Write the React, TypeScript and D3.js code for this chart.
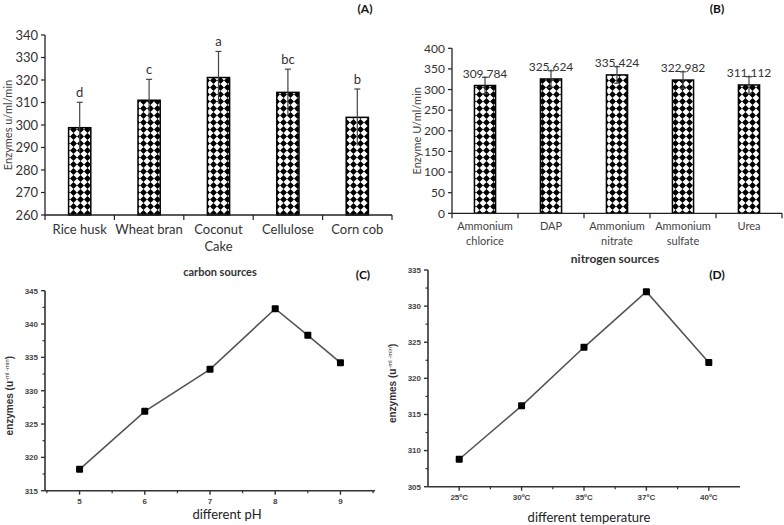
import * as React from 'react';
import * as d3 from 'd3';

// ---- data ----
const carbonSources = ['Rice husk', 'Wheat bran', 'Coconut|Cake', 'Cellulose', 'Corn cob'];
const carbonValues = [298.8, 311.0, 321.1, 314.5, 303.4];
const carbonErrors = [11.3, 9.3, 11.6, 10.3, 12.6];
const carbonLetters = ['d', 'c', 'a', 'bc', 'b'];
const carbonTicks = [260, 270, 280, 290, 300, 310, 320, 330, 340];

const nitrogenSources = ['Ammonium|chlorice', 'DAP', 'Ammonium|nitrate', 'Ammonium|sulfate', 'Urea'];
const nitrogenValues = [309.784, 325.624, 335.424, 322.982, 311.112];
const nitrogenErrors = [20, 20, 20, 20, 20];
const nitrogenTicks = [0, 50, 100, 150, 200, 250, 300, 350, 400];

const phValues = [5, 6, 7, 8, 8.5, 9];
const phEnzymes = [318.2, 326.9, 333.2, 342.3, 338.3, 334.2];
const phTicks = [5, 6, 7, 8, 9];
const phYTicks = [315, 320, 325, 330, 335, 340, 345];

const tempLabels = ['25ºC', '30ºC', '35ºC', '37ºC', '40ºC'];
const tempEnzymes = [308.8, 316.2, 324.3, 332.0, 322.2];
const tempYTicks = [305, 310, 315, 320, 325, 330, 335];

const CAL = 'Lato, "Open Sans", sans-serif';
const ARIAL = '"Liberation Sans", Arial, sans-serif';

const DiamondPattern = () => (
  <defs>
    <pattern id="diam" width={7} height={7} patternUnits="userSpaceOnUse">
      <rect width={7} height={7} fill="#fff" />
      <path d="M3.5,0 L7,3.5 L3.5,7 L0,3.5 Z" fill="#000" />
    </pattern>
  </defs>
);

interface BarPanelProps {
  cats: string[];
  values: number[];
  errors: number[];
  ticks: number[];
  x0: number; x1: number; y0: number; y1: number;
  yDomain: [number, number];
  tickFont: number;
  catFont: number;
  catColor: string;
  yLabel: string;
  yLabelX: number;
  yLabelFont: number;
  labels: string[];
  labelFont: number;
  labelGap: number;
  bottomCaps: boolean;
}

const BarPanel = (p: BarPanelProps) => {
  const x = d3.scaleBand().domain(p.cats).range([p.x0, p.x1]);
  const y = d3.scaleLinear().domain(p.yDomain).range([p.y1, p.y0]);
  const bw = x.bandwidth() * 0.32;
  const bounds = p.cats.map((c) => x(c)!).concat([p.x1]);
  return (
    <g>
      {p.cats.map((c, i) => {
        const cx = x(c)! + x.bandwidth() / 2;
        const top = y(p.values[i]);
        const eTop = y(p.values[i] + p.errors[i]);
        const eBot = y(p.values[i] - p.errors[i]);
        return (
          <g key={c}>
            <rect x={cx - bw / 2} y={top} width={bw} height={p.y1 - top}
              fill="url(#diam)" stroke="#000" strokeWidth={1.5} />
            <line x1={cx} x2={cx} y1={eTop} y2={eBot} stroke="#444" strokeWidth={1.2} />
            <line x1={cx - 3} x2={cx + 3} y1={eTop} y2={eTop} stroke="#444" strokeWidth={1.2} />
            {p.bottomCaps && (
              <line x1={cx - 3} x2={cx + 3} y1={eBot} y2={eBot} stroke="#444" strokeWidth={1.2} />
            )}
            <text x={cx} y={p.bottomCaps ? top - p.labelGap : eTop - p.labelGap}
              textAnchor="middle" fontSize={p.labelFont} fontFamily={CAL} fill="#333">
              {p.labels[i]}
            </text>
            {c.split('|').map((line, k) => (
              <text key={k} x={cx} y={p.y1 + (p.catFont + 6) + k * (p.catFont + 4)}
                textAnchor="middle" fontSize={p.catFont} fontFamily={CAL} fill={p.catColor}>
                {line}
              </text>
            ))}
          </g>
        );
      })}
      <line x1={p.x0} x2={p.x0} y1={p.y0} y2={p.y1} stroke="#222" strokeWidth={1.3} />
      <line x1={p.x0} x2={p.x1} y1={p.y1} y2={p.y1} stroke="#222" strokeWidth={1.3} />
      {p.ticks.map((t) => (
        <g key={t}>
          <line x1={p.x0 - 4} x2={p.x0} y1={y(t)} y2={y(t)} stroke="#222" strokeWidth={1.2} />
          <text x={p.x0 - 7} y={y(t)} dy="0.35em" textAnchor="end" fontSize={p.tickFont}
            fontFamily={CAL} fill="#333">{t}</text>
        </g>
      ))}
      {bounds.map((b, i) => (
        <line key={i} x1={b} x2={b} y1={p.y1} y2={p.y1 + 5} stroke="#222" strokeWidth={1.2} />
      ))}
      <text transform={`translate(${p.yLabelX},${(p.y0 + p.y1) / 2}) rotate(-90)`}
        textAnchor="middle" fontSize={p.yLabelFont} fontFamily={CAL} fill="#444">{p.yLabel}</text>
    </g>
  );
};

interface LinePanelProps {
  xs: number[];
  ys: number[];
  x: (v: number) => number;
  y: d3.ScaleLinear<number, number>;
  x0: number; x1: number; y0: number; y1: number;
  xMajor: { v: number; label: string }[];
  xMinor: number[];
  yTicks: number[];
}

const LinePanel = (p: LinePanelProps) => {
  const line = d3.line<number>().x((d, i) => p.x(p.xs[i])).y((d) => p.y(d));
  const step = p.yTicks[1] - p.yTicks[0];
  const yMinor = p.yTicks.slice(0, -1).map((t) => t + step / 2);
  const ax = '#333';
  return (
    <g>
      <line x1={p.x0} x2={p.x0} y1={p.y0} y2={p.y1} stroke={ax} strokeWidth={1.6} />
      <line x1={p.x0} x2={p.x1} y1={p.y1} y2={p.y1} stroke={ax} strokeWidth={1.6} />
      {p.yTicks.map((t) => (
        <g key={t}>
          <line x1={p.x0 - 4} x2={p.x0} y1={p.y(t)} y2={p.y(t)} stroke={ax} strokeWidth={1.4} />
          <text x={p.x0 - 7} y={p.y(t)} dy="0.35em" textAnchor="end" fontSize={8}
            fontWeight="bold" fontFamily={ARIAL} fill="#444">{t}</text>
        </g>
      ))}
      {yMinor.map((t) => (
        <line key={t} x1={p.x0 - 2.5} x2={p.x0} y1={p.y(t)} y2={p.y(t)} stroke={ax} strokeWidth={1.2} />
      ))}
      {p.xMajor.map((t) => (
        <g key={t.label}>
          <line x1={p.x(t.v)} x2={p.x(t.v)} y1={p.y1} y2={p.y1 + 4} stroke={ax} strokeWidth={1.4} />
          <text x={p.x(t.v)} y={p.y1 + 13} textAnchor="middle" fontSize={8}
            fontWeight="bold" fontFamily={ARIAL} fill="#444">{t.label}</text>
        </g>
      ))}
      {p.xMinor.map((t) => (
        <line key={t} x1={p.x(t)} x2={p.x(t)} y1={p.y1} y2={p.y1 + 2.5} stroke={ax} strokeWidth={1.2} />
      ))}
      <path d={line(p.ys) || ''} fill="none" stroke="#555" strokeWidth={1.6} />
      {p.ys.map((v, i) => (
        <rect key={i} x={p.x(p.xs[i]) - 3.5} y={p.y(v) - 3.5} width={7} height={7} rx={1}
          fill="#000" />
      ))}
      <text transform={`translate(${p.x0 - 32},${(p.y0 + p.y1) / 2 + 5}) rotate(-90)`}
        textAnchor="middle" fontSize={10} fontWeight="bold" fontFamily={ARIAL} fill="#333">
        enzymes (u
        <tspan fontSize={6} dy={-4} fontWeight="normal">-ml -min</tspan>
        <tspan dy={4}>)</tspan>
      </text>
    </g>
  );
};

export default function App() {
  // panel C scales
  const cX = d3.scaleLinear().domain([4.47, 9.53]).range([45, 375]);
  const cY = d3.scaleLinear().domain([315, 345]).range([490.7, 290.7]);
  // panel D scales
  const dX = d3.scalePoint<string>().domain(tempLabels).range([428, 740]).padding(0.5);
  const dY = d3.scaleLinear().domain([305, 335]).range([486.7, 270]);
  const dStep = dX.step();
  const dIdx = tempLabels.map((_, i) => i);
  const dXf = (i: number) => dX(tempLabels[0])! + i * dStep;

  return (
    <svg width={784} height={525} style={{ position: 'absolute', left: 0, top: 0, background: '#fff' }}>
      <DiamondPattern />

      <BarPanel cats={carbonSources} values={carbonValues} errors={carbonErrors}
        ticks={carbonTicks} x0={45} x1={392} y0={35} y1={215} yDomain={[260, 340]}
        tickFont={13} catFont={13} catColor="#333" yLabel="Enzymes u/ml/min" yLabelX={12}
        yLabelFont={11} labels={carbonLetters} labelFont={13} labelGap={5} bottomCaps={false} />
      <text x={220} y={276} textAnchor="middle" fontSize={11} fontWeight="bold" fontFamily={CAL} fill="#333">carbon sources</text>
      <text x={365} y={13} textAnchor="middle" fontSize={12} fontWeight="bold" fontFamily={CAL} fill="#111">(A)</text>

      <BarPanel cats={nitrogenSources} values={nitrogenValues} errors={nitrogenErrors}
        ticks={nitrogenTicks} x0={452} x1={782} y0={48.3} y1={213.3} yDomain={[0, 400]}
        tickFont={12} catFont={11} catColor="#444" yLabel="Enzyme  U/ml/min" yLabelX={421}
        yLabelFont={11} labels={nitrogenValues.map((v) => v.toFixed(3))} labelFont={12} labelGap={8}
        bottomCaps={true} />
      <text x={615} y={263} textAnchor="middle" fontSize={12} fontWeight="bold" fontFamily={CAL} fill="#333">nitrogen sources</text>
      <text x={717} y={13} textAnchor="middle" fontSize={12} fontWeight="bold" fontFamily={CAL} fill="#111">(B)</text>

      <LinePanel xs={phValues} ys={phEnzymes} x={cX} y={cY} x0={45} x1={375} y0={290.7} y1={490.7}
        xMajor={phTicks.map((v) => ({ v, label: String(v) }))}
        xMinor={[4.5, 5.5, 6.5, 7.5, 8.5, 9.5]} yTicks={phYTicks} />
      <text x={227} y={519} textAnchor="middle" fontSize={13} fontFamily={CAL} fill="#222">different pH</text>
      <text x={363} y={279} textAnchor="middle" fontSize={12} fontWeight="bold" fontFamily={CAL} fill="#111">(C)</text>

      <LinePanel xs={dIdx} ys={tempEnzymes} x={dXf} y={dY} x0={428} x1={740} y0={270} y1={486.7}
        xMajor={tempLabels.map((l, i) => ({ v: i, label: l }))}
        xMinor={[0.5, 1.5, 2.5, 3.5]} yTicks={tempYTicks} />
      <text x={589} y={522} textAnchor="middle" fontSize={13} fontFamily={CAL} fill="#222">different temperature</text>
      <text x={717} y={279} textAnchor="middle" fontSize={12} fontWeight="bold" fontFamily={CAL} fill="#111">(D)</text>
    </svg>
  );
}
